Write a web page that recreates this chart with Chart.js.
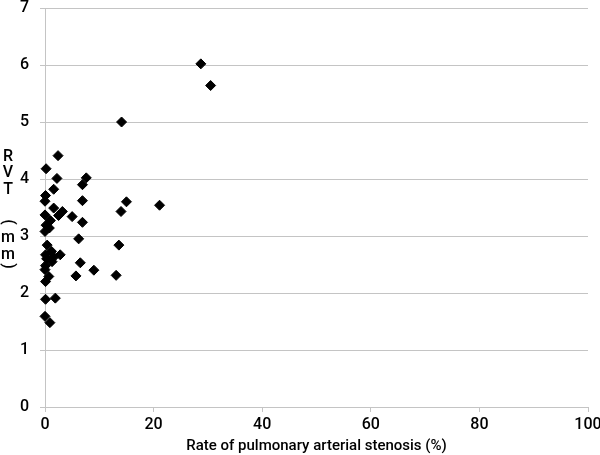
<!DOCTYPE html>
<html>
<head>
<meta charset="utf-8">
<script src="https://cdn.jsdelivr.net/npm/chart.js@4"></script>
<style>
  html, body { margin: 0; padding: 0; background: #fff; }
  #wrap { width: 600px; height: 455px; position: relative; }
</style>
</head>
<body>
<div id="wrap"><canvas id="rvt-chart"></canvas></div>
<script>
// stenosis rate (%) and RVT (mm)
const stenosisRate = [
    2.4, 0.2, 2.2, 7.6, 6.9, 1.6, 0.1, 0.0, 6.9, 15.0,
    21.1, 14.0, 1.6, 3.2, 2.5, 5.0, 0.0, 1.0, 0.2, 0.8,
    6.9, 0.0, 6.2, 13.6, 0.4, 1.2, 0.1, 2.8, 1.6, 0.3,
    1.3, 6.5, 0.1, 0.0, 9.0, 0.7, 5.7, 13.1, 0.1, 0.1,
    1.9, 0.0, 0.9, 28.7, 30.5, 14.1
];
const rvtValues = [
    4.41, 4.18, 4.01, 4.02, 3.90, 3.82, 3.71, 3.61, 3.62, 3.60,
    3.54, 3.43, 3.49, 3.43, 3.36, 3.34, 3.37, 3.27, 3.19, 3.14,
    3.24, 3.08, 2.95, 2.84, 2.84, 2.73, 2.67, 2.67, 2.63, 2.60,
    2.55, 2.53, 2.48, 2.41, 2.40, 2.29, 2.30, 2.31, 2.20, 1.89,
    1.91, 1.59, 1.48, 6.02, 5.64, 5.00
];
const xTicks = [0, 20, 40, 60, 80, 100];
const yTicks = [0, 1, 2, 3, 4, 5, 6, 7];
const xTitle = 'Rate of pulmonary arterial stenosis (%)';
// vertical title: RVT (mm), parens get turned sideways
const yTitleChars = ['R', 'V', 'T', '(', 'm', 'm', ')'];

const fontFamily = "Roboto, 'Liberation Sans', sans-serif";
const gridGray = '#c4c4c4';

const verticalTitle = {
    id: 'verticalTitle',
    afterDraw(chart) {
        const ctx = chart.ctx;
        const ys = [157, 173, 190, 222, 238, 255, 266];
        ctx.save();
        ctx.fillStyle = '#000';
        ctx.font = "500 16px " + fontFamily;
        ctx.textAlign = 'center';
        ctx.textBaseline = 'middle';
        yTitleChars.forEach((ch, i) => {
            if (ch === '(' || ch === ')') {
                ctx.save();
                ctx.translate(8, ys[i]);
                ctx.rotate(Math.PI / 2);
                ctx.fillText(ch, 0, 0);
                ctx.restore();
            } else {
                ctx.fillText(ch, 8, ys[i]);
            }
        });
        ctx.restore();
    }
};

const points = stenosisRate.map((x, i) => ({ x: x, y: rvtValues[i] }));

new Chart(document.getElementById('rvt-chart'), {
    type: 'scatter',
    data: {
        datasets: [{
            data: points,
            clip: false,
            pointStyle: 'rectRot',
            pointRadius: 5,
            pointBackgroundColor: '#000',
            pointBorderColor: '#000',
            pointBorderWidth: 1
        }]
    },
    options: {
        responsive: true,
        maintainAspectRatio: false,
        animation: false,
        layout: { padding: { top: 8, right: 12, left: 0, bottom: 0 } },
        plugins: {
            legend: { display: false },
            tooltip: { enabled: false }
        },
        scales: {
            x: {
                type: 'linear',
                min: 0,
                max: 100,
                afterBuildTicks: s => { s.ticks = xTicks.map(v => ({ value: v })); },
                afterFit: s => { s.height = 48; s.paddingLeft = 0; s.paddingRight = 0; },
                grid: { drawOnChartArea: false, color: gridGray, tickLength: 5 },
                border: { color: gridGray },
                ticks: {
                    color: '#000',
                    padding: 3,
                    maxRotation: 0,
                    font: { family: fontFamily, size: 16, weight: 500 }
                },
                title: {
                    display: true,
                    text: xTitle,
                    color: '#000',
                    padding: { top: 0, bottom: 0 },
                    font: { family: fontFamily, size: 15, weight: 500 }
                }
            },
            y: {
                type: 'linear',
                min: 0,
                max: 7,
                afterBuildTicks: s => { s.ticks = yTicks.map(v => ({ value: v })); },
                afterFit: s => { s.width = 45; s.paddingTop = 0; s.paddingBottom = 0; },
                grid: { color: gridGray, tickLength: 5 },
                border: { color: gridGray },
                ticks: {
                    color: '#000',
                    padding: 11,
                    font: { family: fontFamily, size: 16, weight: 500 }
                }
            }
        }
    },
    plugins: [verticalTitle]
});
</script>
</body>
</html>
